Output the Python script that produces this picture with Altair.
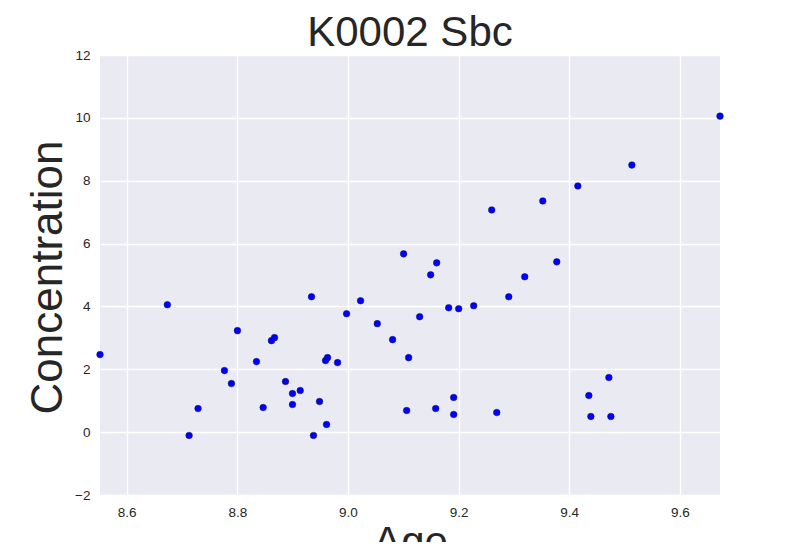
import altair as alt
import pandas as pd

age = [8.5517, 8.6735, 8.7128, 8.7290, 8.7767, 8.7893, 8.8002, 8.8346, 8.8467, 8.8617,
       8.8672, 8.8871, 8.8997, 8.8997, 8.9137, 8.9341, 8.9377, 8.9486, 8.9595, 8.9631,
       8.9613, 8.9812, 8.9975, 9.0228, 9.0530, 9.0807, 9.1006, 9.1097, 9.1061, 9.1296,
       9.1495, 9.1604, 9.1586, 9.1821, 9.1911, 9.1911, 9.2002, 9.2273, 9.2599, 9.2690,
       9.2907, 9.3196, 9.3522, 9.3775, 9.4156, 9.4355, 9.4391, 9.4717, 9.4753, 9.5133,
       9.6726]
concentration = [2.467, 4.054, -0.105, 0.752, 1.959, 1.546, 3.229, 2.244, 0.784, 2.911,
                 3.006, 1.610, 1.229, 0.879, 1.324, 4.308, -0.105, 0.975, 2.276, 2.371,
                 0.244, 2.213, 3.768, 4.181, 3.451, 2.943, 5.673, 2.371, 0.689, 3.673,
                 5.006, 5.387, 0.752, 3.959, 1.102, 0.562, 3.927, 4.022, 7.070, 0.625,
                 4.308, 4.943, 7.356, 5.419, 7.832, 1.165, 0.498, 1.737, 0.498, 8.498,
                 10.054]
x_ticks = [8.6, 8.8, 9.0, 9.2, 9.4, 9.6]
y_ticks = [-2, 0, 2, 4, 6, 8, 10, 12]

df = pd.DataFrame({"Age": age, "Concentration": concentration})

FONT = "Liberation Sans"
TXT = "#262626"

chart = (
    alt.Chart(df)
    .mark_circle(size=44, color="#0000FF", opacity=1, stroke="#10105a", strokeWidth=0.5)
    .encode(
        x=alt.X(
            "Age:Q",
            scale=alt.Scale(domain=[min(age), max(age)], nice=False, zero=False),
            axis=alt.Axis(
                values=x_ticks, format=".1f", title="Age",
                titleFontSize=42, titleFont=FONT, titleColor=TXT, titleFontWeight="normal",
                titleX=310, titleY=60, titleBaseline="alphabetic", titleAlign="center",
            ),
        ),
        y=alt.Y(
            "Concentration:Q",
            scale=alt.Scale(domain=[-2, 12], nice=False, zero=False),
            axis=alt.Axis(
                values=y_ticks, format="d", title="Concentration",
                titleFontSize=44, titleFont=FONT, titleColor=TXT, titleFontWeight="normal",
                titleX=-39, titleY=222, titleBaseline="alphabetic", titleAlign="center",
                titleAngle=270,
            ),
        ),
    )
    .properties(
        width=620,
        height=440,
        autosize=alt.AutoSizeParams(type="none"),
        padding={"left": 92, "top": 47, "right": 60, "bottom": 47},
        title=alt.TitleParams(
            "K0002 Sbc", fontSize=42, font=FONT, color=TXT, fontWeight="normal",
            anchor="middle", frame="group", offset=0, dy=7,
        ),
    )
    .configure(background="white")
    .configure_view(fill="#EAEAF2", stroke=None)
    .configure_axis(
        grid=True, gridColor="white", gridWidth=1.4, domain=False, ticks=False,
        labelFont=FONT, labelFontSize=13.5, labelColor=TXT, labelPadding=10,
    )
)

chart.save("out.html", embed_options={"renderer": "svg", "actions": False})
